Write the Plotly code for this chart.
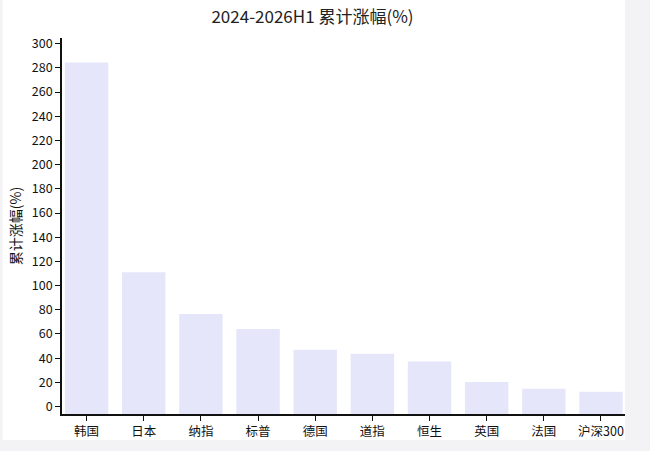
import plotly.graph_objects as go

categories = ["韩国", "日本", "纳指", "标普", "德国", "道指", "恒生", "英国", "法国", "沪深300"]
values = [284.5, 111.0, 76.4, 64.0, 46.9, 43.7, 37.2, 20.3, 14.6, 12.2]
y_ticks = list(range(0, 301, 20))

Y_MIN = -6.2
Y_MAX = 304.7
BAR_COLOR = "#e6e6fa"
GRAY = "#f3f3f5"
FONT = "Noto Sans CJK SC, Noto Sans, sans-serif"

PLOT_W = 650 - 62 - 25
PLOT_H = 451 - 38 - 37

fig = go.Figure()
fig.add_trace(go.Bar(
    x=categories,
    y=[v - Y_MIN for v in values],
    base=Y_MIN,
    marker=dict(color=BAR_COLOR, line=dict(width=0)),
    customdata=values,
    hovertemplate="%{x}: %{customdata}%<extra></extra>",
))

fig.update_layout(
    width=650, height=451,
    margin=dict(l=62, r=25, t=38, b=37),
    paper_bgcolor="white",
    plot_bgcolor="white",
    bargap=0.24,
    showlegend=False,
    font=dict(family=FONT, color="#111111", size=12),
    title=dict(
        text="2024-2026H1 累计涨幅(%)",
        x=312.5 / 650, xref="container", xanchor="center",
        y=1 - 17 / 451, yref="container", yanchor="middle",
        font=dict(family=FONT, size=17, color="#222222"),
    ),
    xaxis=dict(
        range=[-0.43, 9.42],
        showline=True, linecolor="#111111", linewidth=1.8,
        ticks="outside", ticklen=5, tickwidth=1.4, tickcolor="#111111",
        showgrid=False, zeroline=False,
        tickfont=dict(family=FONT, size=12.5, color="#111111"),
        fixedrange=True,
    ),
    yaxis=dict(
        range=[Y_MIN, Y_MAX],
        tickvals=y_ticks,
        showline=True, linecolor="#111111", linewidth=1.8,
        ticks="outside", ticklen=5, tickwidth=1.4, tickcolor="#111111",
        showgrid=False, zeroline=False,
        tickfont=dict(family=FONT, size=12.5, color="#111111"),
        title=dict(text="累计涨幅(%)", font=dict(family=FONT, size=14, color="#111111"), standoff=7),
        fixedrange=True,
    ),
    shapes=[
        dict(type="rect", xref="paper", yref="paper", layer="below",
             x0=1.0, x1=1.06, y0=-0.12, y1=1.12,
             fillcolor=GRAY, line=dict(width=0)),
        dict(type="rect", xref="paper", yref="paper", layer="below",
             x0=-0.12, x1=1.06, y0=-0.12, y1=-(440 - 414) / PLOT_H,
             fillcolor=GRAY, line=dict(width=0)),
        dict(type="rect", xref="paper", yref="paper", layer="below",
             x0=-62 / PLOT_W, x1=-59.5 / PLOT_W, y0=-0.12, y1=1.12,
             fillcolor=GRAY, line=dict(width=0)),
    ],
)

fig.write_html(
    "out.html",
    config={"displayModeBar": False},
    post_script="document.body.style.margin='0';document.body.style.overflow='hidden';",
)
